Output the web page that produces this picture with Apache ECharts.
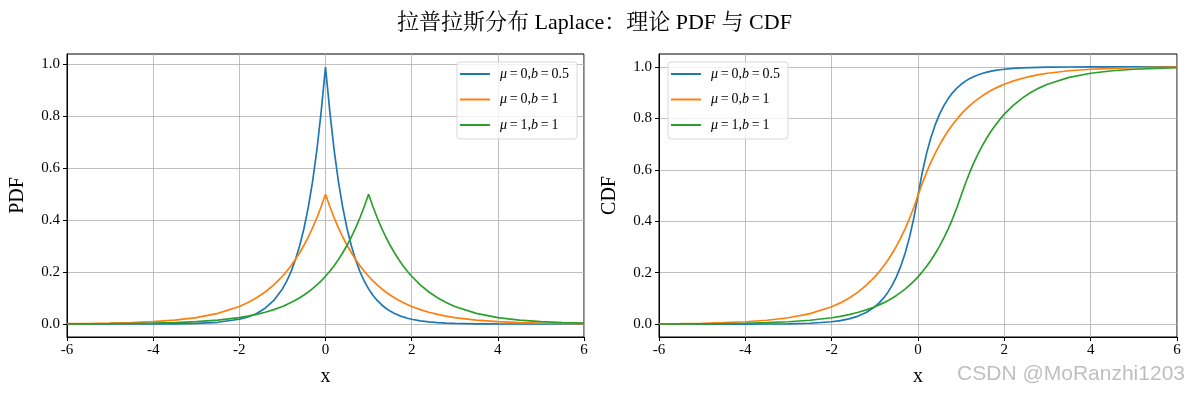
<!DOCTYPE html>
<html>
<head>
<meta charset="utf-8">
<script src="https://cdn.jsdelivr.net/npm/echarts@6/dist/echarts.min.js"></script>
<style>
html, body { margin: 0; padding: 0; background: #fff; }
#chart { width: 1189px; height: 396px; }
</style>
</head>
<body>
<div id="chart"></div>
<script>
// x 取样点
const xs = [-6, -5.5, -5, -4.5, -4, -3.5, -3, -2.5, -2, -1.8, -1.6, -1.4, -1.2, -1.0,
    -0.9, -0.8, -0.7, -0.6, -0.5, -0.4, -0.3, -0.2, -0.1, 0, 0.1, 0.2, 0.3, 0.4, 0.5,
    0.6, 0.7, 0.8, 0.9, 1.0, 1.1, 1.2, 1.3, 1.4, 1.5, 1.6, 1.7, 1.8, 1.9, 2.0,
    2.2, 2.4, 2.6, 2.8, 3.0, 3.5, 4, 4.5, 5, 5.5, 6];

// PDF: mu=0,b=0.5 / mu=0,b=1 / mu=1,b=1
const pdfA = [0, 0, 0.0001, 0.0001, 0.0003, 0.0009, 0.0025, 0.0067, 0.0183, 0.0273, 0.0408, 0.0608, 0.0907, 0.1353,
    0.1653, 0.2019, 0.2466, 0.3012, 0.3679, 0.4493, 0.5488, 0.6703, 0.8187, 0.99, 0.8187, 0.6703, 0.5488, 0.4493, 0.3679,
    0.3012, 0.2466, 0.2019, 0.1653, 0.1353, 0.1108, 0.0907, 0.0743, 0.0608, 0.0498, 0.0408, 0.0334, 0.0273, 0.0224, 0.0183,
    0.0123, 0.0082, 0.0055, 0.0037, 0.0025, 0.0009, 0.0003, 0.0001, 0.0001, 0, 0];
const pdfB = [0.0012, 0.0020, 0.0034, 0.0056, 0.0092, 0.0151, 0.0249, 0.0410, 0.0677, 0.0826, 0.1009, 0.1233, 0.1506, 0.1839,
    0.2033, 0.2247, 0.2483, 0.2744, 0.3033, 0.3352, 0.3704, 0.4094, 0.4524, 0.5, 0.4524, 0.4094, 0.3704, 0.3352, 0.3033,
    0.2744, 0.2483, 0.2247, 0.2033, 0.1839, 0.1664, 0.1506, 0.1363, 0.1233, 0.1116, 0.1009, 0.0913, 0.0826, 0.0748, 0.0677,
    0.0554, 0.0454, 0.0371, 0.0304, 0.0249, 0.0151, 0.0092, 0.0056, 0.0034, 0.0020, 0.0012];
const pdfC = [0.0005, 0.0008, 0.0012, 0.0020, 0.0034, 0.0056, 0.0092, 0.0151, 0.0249, 0.0304, 0.0371, 0.0454, 0.0554, 0.0677,
    0.0748, 0.0826, 0.0913, 0.1009, 0.1116, 0.1233, 0.1363, 0.1506, 0.1664, 0.1839, 0.2033, 0.2247, 0.2483, 0.2744, 0.3033,
    0.3352, 0.3704, 0.4094, 0.4524, 0.5, 0.4524, 0.4094, 0.3704, 0.3352, 0.3033, 0.2744, 0.2483, 0.2247, 0.2033, 0.1839,
    0.1506, 0.1233, 0.1009, 0.0826, 0.0677, 0.0410, 0.0249, 0.0151, 0.0092, 0.0056, 0.0034];

// CDF
const cdfA = [0, 0, 0, 0.0001, 0.0002, 0.0005, 0.0012, 0.0034, 0.0092, 0.0137, 0.0204, 0.0304, 0.0454, 0.0677,
    0.0826, 0.1009, 0.1233, 0.1506, 0.1839, 0.2247, 0.2744, 0.3352, 0.4094, 0.5, 0.5906, 0.6648, 0.7256, 0.7753, 0.8161,
    0.8494, 0.8767, 0.8991, 0.9174, 0.9323, 0.9446, 0.9546, 0.9628, 0.9696, 0.9751, 0.9796, 0.9833, 0.9863, 0.9888, 0.9908,
    0.9939, 0.9959, 0.9973, 0.9982, 0.9988, 0.9995, 0.9998, 0.9999, 1.0, 1.0, 1.0];
const cdfB = [0.0012, 0.0020, 0.0034, 0.0056, 0.0092, 0.0151, 0.0249, 0.0410, 0.0677, 0.0826, 0.1009, 0.1233, 0.1506, 0.1839,
    0.2033, 0.2247, 0.2483, 0.2744, 0.3033, 0.3352, 0.3704, 0.4094, 0.4524, 0.5, 0.5476, 0.5906, 0.6296, 0.6648, 0.6967,
    0.7256, 0.7517, 0.7753, 0.7967, 0.8161, 0.8336, 0.8494, 0.8637, 0.8767, 0.8884, 0.8991, 0.9087, 0.9174, 0.9252, 0.9323,
    0.9446, 0.9546, 0.9629, 0.9696, 0.9751, 0.9849, 0.9908, 0.9944, 0.9966, 0.9980, 0.9988];
const cdfC = [0.0005, 0.0008, 0.0012, 0.0020, 0.0034, 0.0056, 0.0092, 0.0151, 0.0249, 0.0304, 0.0371, 0.0454, 0.0554, 0.0677,
    0.0748, 0.0826, 0.0913, 0.1009, 0.1116, 0.1233, 0.1363, 0.1506, 0.1664, 0.1839, 0.2033, 0.2247, 0.2483, 0.2744, 0.3033,
    0.3352, 0.3704, 0.4094, 0.4524, 0.5, 0.5476, 0.5906, 0.6296, 0.6648, 0.6967, 0.7256, 0.7517, 0.7753, 0.7967, 0.8161,
    0.8494, 0.8767, 0.8991, 0.9174, 0.9323, 0.9590, 0.9751, 0.9849, 0.9908, 0.9944, 0.9966];

const yTicks = [0, 0.2, 0.4, 0.6, 0.8, 1.0];
const muVals = ['0', '0', '1'];
const bVals = ['0.5', '1', '1'];
const colors = ['#1f77b4', '#ff7f0e', '#2ca02c'];

const serif = "'Liberation Serif', 'Times New Roman', 'Noto Serif CJK SC', 'Noto Sans CJK SC', serif";
const names = muVals.map((m, i) => 'mu' + m + 'b' + bVals[i]);

function zip(vals) {
    return xs.map((x, i) => [x, vals[i]]);
}

function legendText(name) {
    const i = names.indexOf(name);
    return '{s|}{i|μ}{n|\u2009=\u2009' + muVals[i] + ',}{i|b}{n|\u2009=\u2009' + bVals[i] + '}';
}

function makeX(idx) {
    return {
        type: 'value', gridIndex: idx, min: -6, max: 6, interval: 2,
        name: 'x', nameLocation: 'middle', nameGap: 30,
        nameTextStyle: { fontFamily: serif, fontSize: 20, color: '#000' },
        axisLine: { show: true, onZero: false, lineStyle: { color: '#000', width: 1 } },
        axisTick: { show: true, inside: false, length: 4, lineStyle: { color: '#000' } },
        axisLabel: { fontFamily: serif, fontSize: 15, color: '#000', margin: 6 },
        splitLine: { show: true, lineStyle: { color: '#b0b0b0', width: 0.8 } }
    };
}

function makeY(idx, name, max) {
    return {
        type: 'value', gridIndex: idx, min: -0.05, max: max,
        name: name, nameLocation: 'middle', nameGap: 39,
        nameTextStyle: { fontFamily: serif, fontSize: 20, color: '#000' },
        axisLine: { show: true, onZero: false, lineStyle: { color: '#000', width: 1 } },
        axisTick: { show: true, inside: false, length: 4, customValues: yTicks, lineStyle: { color: '#000' } },
        axisLabel: {
            fontFamily: serif, fontSize: 15, color: '#000', margin: 7,
            customValues: yTicks, formatter: v => v.toFixed(1)
        },
        splitLine: { show: true, lineStyle: { color: '#b0b0b0', width: 0.8 } }
    };
}

function makeLegend(idx, pos) {
    return Object.assign({
        orient: 'vertical',
        data: names.map(n => ({ name: n })),
        formatter: legendText,
        icon: 'path://M0,0H30V2H0Z',
        itemWidth: 30, itemHeight: 14, itemGap: 11.5,
        padding: [5, 8, 7, 3],
        backgroundColor: 'rgba(255,255,255,0.8)',
        borderColor: '#d8d8d8', borderWidth: 1, borderRadius: 3,
        selectedMode: false,
        textStyle: {
            fontFamily: serif, fontSize: 14, color: '#000',
            rich: {
                s: { width: 5 },
                i: { fontFamily: serif, fontStyle: 'italic', fontSize: 14 },
                n: { fontFamily: serif, fontSize: 14 }
            }
        }
    }, pos);
}

function makeSeries(idx, sets) {
    return sets.map((vals, i) => ({
        name: names[i],
        type: 'line',
        xAxisIndex: idx, yAxisIndex: idx,
        data: zip(vals),
        symbol: 'none',
        smooth: false,
        lineStyle: { color: colors[i], width: 1.7 },
        itemStyle: { color: colors[i] },
        z: 3 + i
    }));
}

const chart = echarts.init(document.getElementById('chart'));
chart.setOption({
    animation: false,
    title: {
        text: '拉普拉斯分布 Laplace：理论 PDF 与 CDF',
        left: 'center', top: 7,
        textStyle: { fontFamily: serif, fontSize: 22, fontWeight: 'normal', color: '#000' }
    },
    grid: [
        { left: 67, top: 54, width: 517, height: 283, show: true, borderColor: '#000', borderWidth: 1 },
        { left: 659, top: 54, width: 518, height: 283, show: true, borderColor: '#000', borderWidth: 1 }
    ],
    legend: [
        makeLegend(0, { right: 612, top: 62 }),
        makeLegend(1, { left: 668, top: 62 })
    ],
    xAxis: [makeX(0), makeX(1)],
    yAxis: [makeY(0, 'PDF', 1.04), makeY(1, 'CDF', 1.05)],
    series: makeSeries(0, [pdfA, pdfB, pdfC]).concat(makeSeries(1, [cdfA, cdfB, cdfC])),
    graphic: [{
        type: 'text', right: 4, top: 364,
        style: {
            text: 'CSDN @MoRanzhi1203',
            font: "21px 'Liberation Sans', 'DejaVu Sans', sans-serif",
            fill: 'rgba(180,180,180,0.85)'
        }
    }]
});
</script>
</body>
</html>
